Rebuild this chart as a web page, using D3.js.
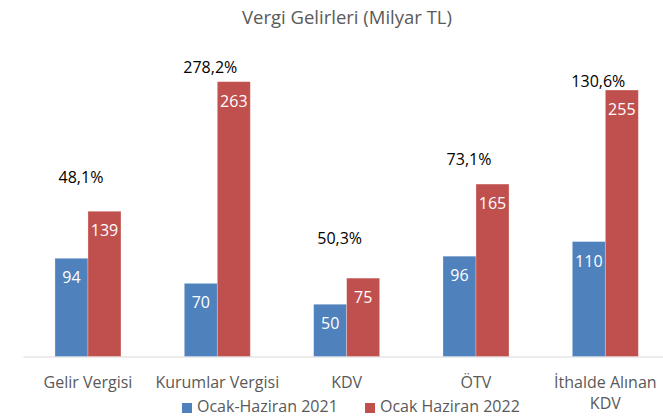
<!DOCTYPE html>
<html>
<head>
<meta charset="utf-8">
<script src="https://cdn.jsdelivr.net/npm/d3@7/dist/d3.min.js"></script>
<style>
  html, body { margin: 0; padding: 0; background: #fff; }
  svg { display: block; }
  text { font-family: "Open Sans", "Noto Sans", sans-serif; }
</style>
</head>
<body>
<svg id="chart" width="663" height="417"></svg>
<script>
// ---- data ----
const title = "Vergi Gelirleri (Milyar TL)";
const categories = ["Gelir Vergisi", "Kurumlar Vergisi", "KDV", "ÖTV", "İthalde Alınan KDV"];
const seriesNames = ["Ocak-Haziran 2021", "Ocak Haziran 2022"];
const values2021 = [94, 70, 50, 96, 110];
const values2022 = [139, 263, 75, 165, 255];
const changeLabels = ["48,1%", "278,2%", "50,3%", "73,1%", "130,6%"];
const changeLabelAt = [172, 277, 113, 189, 264]; // label anchor in value units
const colors = ["#4F81BD", "#C0504D"];

// ---- layout ----
const svg = d3.select("#chart");
const W = 663, H = 417;
const x0 = 23.3, x1 = 670, yBase = 356.5, yTop = 43;

const x = d3.scaleBand().domain(categories).range([x0, x1]).paddingInner(0).paddingOuter(0);
const barW = 33;
const y = d3.scaleLinear().domain([0, 300]).range([yBase, yTop]);

// title
svg.append("text")
  .attr("x", 347).attr("y", 24)
  .attr("text-anchor", "middle")
  .attr("font-size", 18.5)
  .attr("fill", "#595959")
  .text(title);

// axis line
svg.append("line")
  .attr("x1", x0).attr("x2", W)
  .attr("y1", yBase + 0.5).attr("y2", yBase + 0.5)
  .attr("stroke", "#D9D9D9").attr("stroke-width", 1);

const series = [values2021, values2022];
series.forEach((vals, si) => {
  const g = svg.append("g");
  const cx = c => x(c) + x.bandwidth() / 2;
  g.selectAll("rect").data(categories).enter().append("rect")
    .attr("x", (c) => cx(c) + (si === 0 ? -barW : 0))
    .attr("width", barW)
    .attr("y", (c, i) => y(vals[i]))
    .attr("height", (c, i) => yBase - y(vals[i]))
    .attr("fill", colors[si])
    .attr("stroke", "#ffffff").attr("stroke-opacity", 0.35).attr("stroke-width", 0.8);
  g.selectAll("text").data(categories).enter().append("text")
    .attr("x", (c) => cx(c) + (si === 0 ? -barW / 2 : barW / 2))
    .attr("y", (c, i) => y(vals[i]) + 25)
    .attr("text-anchor", "middle")
    .attr("font-size", 16)
    .attr("fill", "#ffffff")
    .text((c, i) => vals[i]);
});

// change labels
svg.append("g").selectAll("text").data(categories).enter().append("text")
  .attr("x", c => x(c) + x.bandwidth() / 2 - 7)
  .attr("y", (c, i) => y(changeLabelAt[i]) + 6)
  .attr("text-anchor", "middle")
  .attr("font-size", 16)
  .attr("fill", "#000000")
  .text((c, i) => changeLabels[i]);

// category labels
const catG = svg.append("g");
categories.forEach((c) => {
  const cx = x(c) + x.bandwidth() / 2;
  const t = catG.append("text")
    .attr("x", cx).attr("y", 388)
    .attr("text-anchor", "middle")
    .attr("font-size", 16)
    .attr("fill", "#595959");
  if (c === "İthalde Alınan KDV") {
    t.append("tspan").attr("x", cx).attr("dy", 0).text("İthalde Alınan");
    t.append("tspan").attr("x", cx).attr("dy", 21).text("KDV");
  } else {
    t.text(c);
  }
});

// legend
const legendX = [182, 365];
seriesNames.forEach((n, i) => {
  svg.append("rect")
    .attr("x", legendX[i]).attr("y", 403)
    .attr("width", 10).attr("height", 10)
    .attr("fill", colors[i]);
  svg.append("text")
    .attr("x", legendX[i] + 15).attr("y", 412)
    .attr("font-size", 16)
    .attr("fill", "#595959")
    .text(n);
});
</script>
</body>
</html>
